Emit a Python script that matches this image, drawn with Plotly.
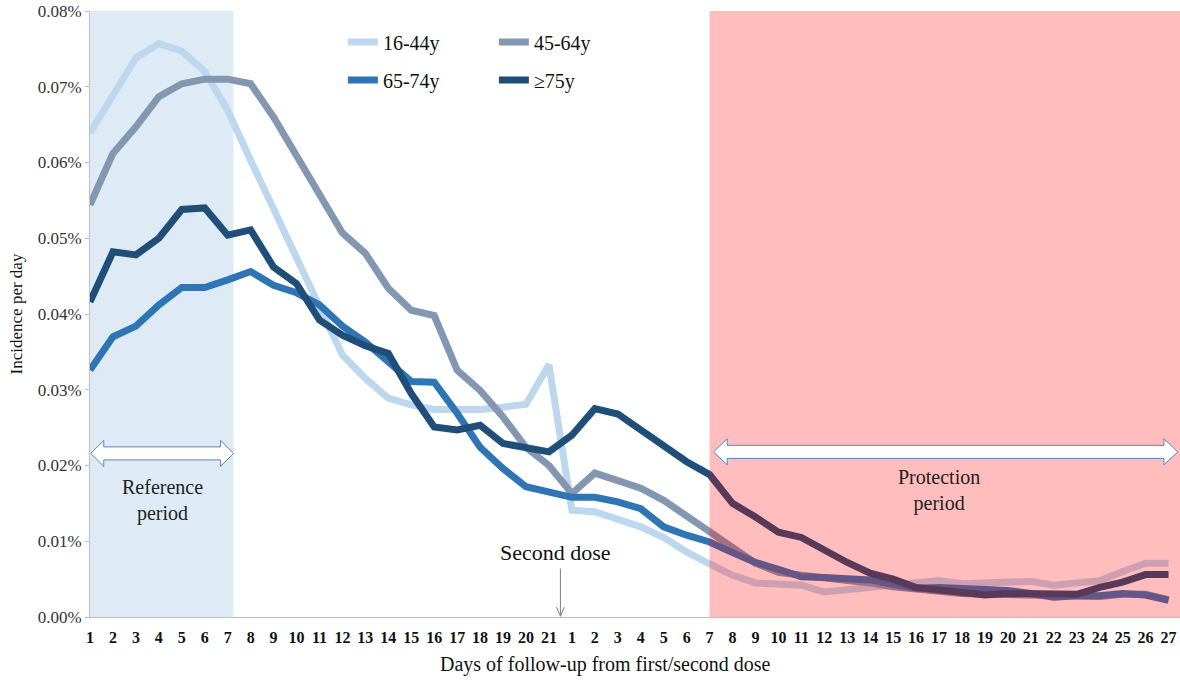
import plotly.graph_objects as go

# ---- data ----
day_labels = [str(d) for d in range(1, 22)] + [str(d) for d in range(1, 28)]

age_16_44 = [0.0639, 0.0687, 0.0738, 0.0757, 0.0747, 0.0720, 0.0669, 0.0603, 0.0537, 0.0475,
             0.0410, 0.0346, 0.0315, 0.0289, 0.0280, 0.0274, 0.0274, 0.0274, 0.0277, 0.0281,
             0.0333,
             0.0141, 0.0139, 0.0130, 0.0119, 0.0105, 0.0086, 0.0070, 0.0055, 0.0045, 0.0044,
             0.0042, 0.0033, 0.0036, 0.0040, 0.0044, 0.0046, 0.0048, 0.0044, 0.0045, 0.0046,
             0.0047, 0.0042, 0.0046, 0.0048, 0.0060, 0.0071, 0.0071]

age_45_64 = [0.0544, 0.0612, 0.0647, 0.0687, 0.0704, 0.0710, 0.0710, 0.0704, 0.0660, 0.0608,
             0.0555, 0.0507, 0.0480, 0.0434, 0.0405, 0.0398, 0.0326, 0.0299, 0.0264, 0.0224,
             0.0200,
             0.0163, 0.0190, 0.0181, 0.0170, 0.0154, 0.0134, 0.0112, 0.0092, 0.0071, 0.0059,
             0.0055, 0.0052, 0.0048, 0.0045, 0.0040, 0.0036, 0.0034, 0.0031, 0.0030, 0.0030,
             0.0029, 0.0028, 0.0028, 0.0027, 0.0030, 0.0030, 0.0023]

age_65_74 = [0.0326, 0.0370, 0.0384, 0.0412, 0.0435, 0.0435, 0.0445, 0.0456, 0.0438, 0.0428,
             0.0412, 0.0384, 0.0363, 0.0337, 0.0311, 0.0310, 0.0269, 0.0224, 0.0196, 0.0172,
             0.0165,
             0.0158, 0.0158, 0.0152, 0.0143, 0.0119, 0.0108, 0.0099, 0.0085, 0.0072, 0.0063,
             0.0053, 0.0052, 0.0051, 0.0049, 0.0043, 0.0038, 0.0039, 0.0038, 0.0037, 0.0035,
             0.0031, 0.0026, 0.0028, 0.0028, 0.0031, 0.0029, 0.0022]

age_75_plus = [0.0416, 0.0482, 0.0478, 0.0500, 0.0538, 0.0540, 0.0504, 0.0511, 0.0462, 0.0440,
               0.0392, 0.0372, 0.0358, 0.0348, 0.0295, 0.0251, 0.0247, 0.0253, 0.0229, 0.0223,
               0.0218,
               0.0240, 0.0275, 0.0268, 0.0247, 0.0227, 0.0205, 0.0188, 0.0150, 0.0132, 0.0112,
               0.0105, 0.0088, 0.0072, 0.0058, 0.0050, 0.0039, 0.0035, 0.0033, 0.0029, 0.0031,
               0.0031, 0.0031, 0.0030, 0.0039, 0.0046, 0.0056, 0.0056]

series_names = ["16-44y", "45-64y", "65-74y", "\u226575y"]
series_colors = ["#BDD7EE", "#8497B0", "#2E75B6", "#1F4E79"]
series_values = [age_16_44, age_45_64, age_65_74, age_75_plus]
series_legend = ["legend", "legend", "legend2", "legend2"]

x_pos = list(range(len(day_labels)))
FONT = "Liberation Serif"

fig = go.Figure()
for name, col, vals, lg in zip(series_names, series_colors, series_values, series_legend):
    fig.add_trace(go.Scatter(x=x_pos, y=vals, mode="lines", name=name, legend=lg,
                             line=dict(color=col, width=7)))

shapes = []
# reference period band (below lines)
shapes.append(dict(type="rect", xref="x", yref="y", x0=0, x1=6.25, y0=0, y1=0.08,
                   fillcolor="#DEEBF7", line=dict(width=0), layer="below"))
# protection period band (translucent red over lines)
shapes.append(dict(type="rect", xref="x", yref="paper", x0=27, x1=47.6, y0=0, y1=1,
                   fillcolor="rgba(255,0,0,0.26)", line=dict(width=0), layer="above"))

def block_arrow(x0, x1, yc, head=0.57, hh=0.00172, sh=0.00086):
    return ("M {a},{y} L {b},{t} L {b},{st} L {c},{st} L {c},{t} L {d},{y} "
            "L {c},{bt} L {c},{sb} L {b},{sb} L {b},{bt} Z").format(
        a=x0, b=x0 + head, c=x1 - head, d=x1, y=yc,
        t=yc + hh, st=yc + sh, sb=yc - sh, bt=yc - hh)

arrow_line = dict(color="#5A86BA", width=1)
shapes.append(dict(type="path", xref="x", yref="y", path=block_arrow(0.03, 6.26, 0.0216),
                   fillcolor="white", line=arrow_line, layer="above"))
shapes.append(dict(type="path", xref="x", yref="y", path=block_arrow(27.17, 47.4, 0.0218, head=0.6),
                   fillcolor="white", line=arrow_line, layer="above"))
# second dose pointer
shapes.append(dict(type="path", xref="x", yref="y",
                   path="M 20.5,0.0064 L 20.5,0.0001 M 20.33,0.0013 L 20.5,0.0001 L 20.67,0.0013",
                   line=dict(color="#7F7F7F", width=1), layer="above"))

annotations = [
    dict(x=3.15, y=0.0154, xref="x", yref="y", text="Reference<br>period", showarrow=False,
         font=dict(family=FONT, size=20, color="#222"), align="center"),
    dict(x=36.98, y=0.0167, xref="x", yref="y", text="Protection<br>period", showarrow=False,
         font=dict(family=FONT, size=20, color="#222"), align="center"),
    dict(x=20.3, y=0.00855, xref="x", yref="y", text="Second dose", showarrow=False,
         font=dict(family=FONT, size=22, color="#111")),
    # x-axis title (offset left of plot centre as in the original)
    dict(x=0.473, y=-0.079, xref="paper", yref="paper", xanchor="center", yanchor="middle",
         text="Days of follow-up from first/second dose", showarrow=False,
         font=dict(family=FONT, size=20, color="#111")),
]

fig.update_layout(
    width=1180, height=684,
    margin=dict(l=90, r=0, t=11, b=67),
    paper_bgcolor="white", plot_bgcolor="white",
    shapes=shapes, annotations=annotations,
    font=dict(family=FONT, color="#222"),
    legend=dict(orientation="h", x=0.232, y=0.949, xanchor="left", yanchor="middle",
                bgcolor="rgba(0,0,0,0)", font=dict(family=FONT, size=20, color="#111"),
                entrywidth=106, traceorder="normal"),
    legend2=dict(orientation="h", x=0.232, y=0.886, xanchor="left", yanchor="middle",
                 bgcolor="rgba(0,0,0,0)", font=dict(family=FONT, size=20, color="#111"),
                 entrywidth=106, traceorder="normal"),
    xaxis=dict(range=[0, 47.5], tickmode="array", tickvals=x_pos, ticktext=day_labels,
               showgrid=False, zeroline=False, showline=True, linecolor="#BFBFBF",
               linewidth=1, ticks="", ticklabelstandoff=6,
               tickfont=dict(family=FONT, size=16, color="#111", weight="bold")),
    yaxis=dict(range=[0, 0.08], dtick=0.01, tickformat=".2f", ticksuffix="%",
               showgrid=False, zeroline=False, showline=True, linecolor="#BFBFBF",
               linewidth=1, ticks="outside", ticklen=4, tickcolor="#BFBFBF",
               tickfont=dict(family=FONT, size=17, color="#333"),
               title=dict(text="Incidence per day",
                          font=dict(family=FONT, size=17, color="#111"), standoff=10)),
)

fig.write_html("out.html", config={"displayModeBar": False},
               post_script="document.body.style.margin='0px';")
